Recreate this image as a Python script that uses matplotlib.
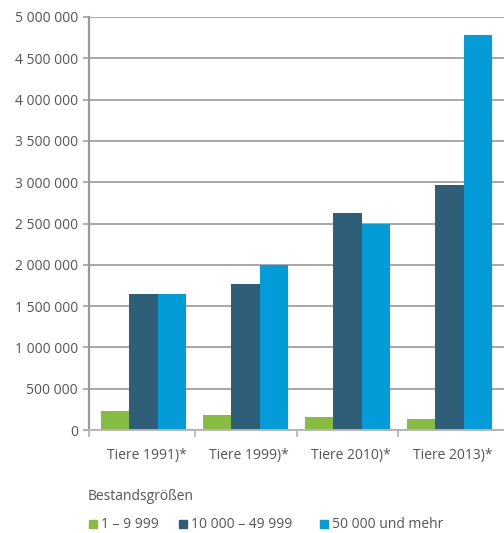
import matplotlib
matplotlib.use("Agg")
import matplotlib.pyplot as plt
from matplotlib.patches import Rectangle
from matplotlib.ticker import FuncFormatter
import numpy as np

plt.rcParams["font.family"] = ["Open Sans", "DejaVu Sans"]

categories = ["Tiere 1991)*", "Tiere 1999)*", "Tiere 2010)*", "Tiere 2013)*"]
series_names = ["1 – 9 999", "10 000 – 49 999", "50 000 und mehr"]
small = [230000, 180000, 157000, 133000]
medium = [1650000, 1770000, 2627000, 2970000]
large = [1650000, 2000000, 2498000, 4782000]
y_ticks = [0, 500000, 1000000, 1500000, 2000000, 2500000, 3000000,
           3500000, 4000000, 4500000, 5000000]
legend_title = "Bestandsgrößen"

colors = ["#86bc42", "#2f5e78", "#039bd8"]
text_color = "#555555"
grid_color = "#8f8f8f"

fig = plt.figure(figsize=(5.04, 5.33), dpi=100)
W, H = 504, 533
ax = fig.add_axes([89 / W, 1 - 430 / H, (504 - 89) / W, (430 - 17) / H])

x = np.arange(len(categories))
bw = 0.278
for i, (vals, c) in enumerate(zip([small, medium, large], colors)):
    ax.bar(x + (i - 1) * bw, vals, width=bw, color=c, zorder=3, linewidth=0)

ax.set_xlim(-0.534, 3.534)
ax.set_ylim(0, 5000000)
ax.set_yticks(y_ticks)
ax.yaxis.set_major_formatter(FuncFormatter(lambda v, p: f"{int(v):,}".replace(",", " ")))
ax.grid(axis="y", color=grid_color, linewidth=1.1, zorder=0)

for s in ["top", "right"]:
    ax.spines[s].set_visible(False)
ax.spines["left"].set_color("#999999")
ax.spines["left"].set_linewidth(1.6)
ax.spines["bottom"].set_color("#b5b5b5")
ax.spines["bottom"].set_linewidth(1.4)
ax.spines["bottom"].set_zorder(4)

ax.tick_params(axis="y", length=4, width=1.1, color="#999999", pad=4,
               labelsize=10, labelcolor=text_color)

# category labels centred under each group, separators between groups
ax.set_xticks(x + 0.03)
ax.set_xticklabels(categories)
ax.tick_params(axis="x", which="major", length=0, pad=13, labelsize=10,
               labelcolor=text_color)
ax.set_xticks([-0.534, 0.505, 1.505, 2.495], minor=True)
ax.tick_params(axis="x", which="minor", length=5, width=1.1, color="#aaaaaa")

# legend
fig.text(88 / W, 1 - 497 / H, legend_title, fontsize=10, color=text_color,
         va="center", ha="left")
entry_x = [89, 179, 320]
for ex, name, c in zip(entry_x, series_names, colors):
    fig.patches.append(Rectangle((ex / W, 1 - 528 / H), 8 / W, 8 / H,
                                 transform=fig.transFigure, color=c))
    fig.text((ex + 12) / W, 1 - 524 / H, name, fontsize=10, color=text_color,
             va="center", ha="left")

fig.savefig("out.png", dpi=100, facecolor="white")
